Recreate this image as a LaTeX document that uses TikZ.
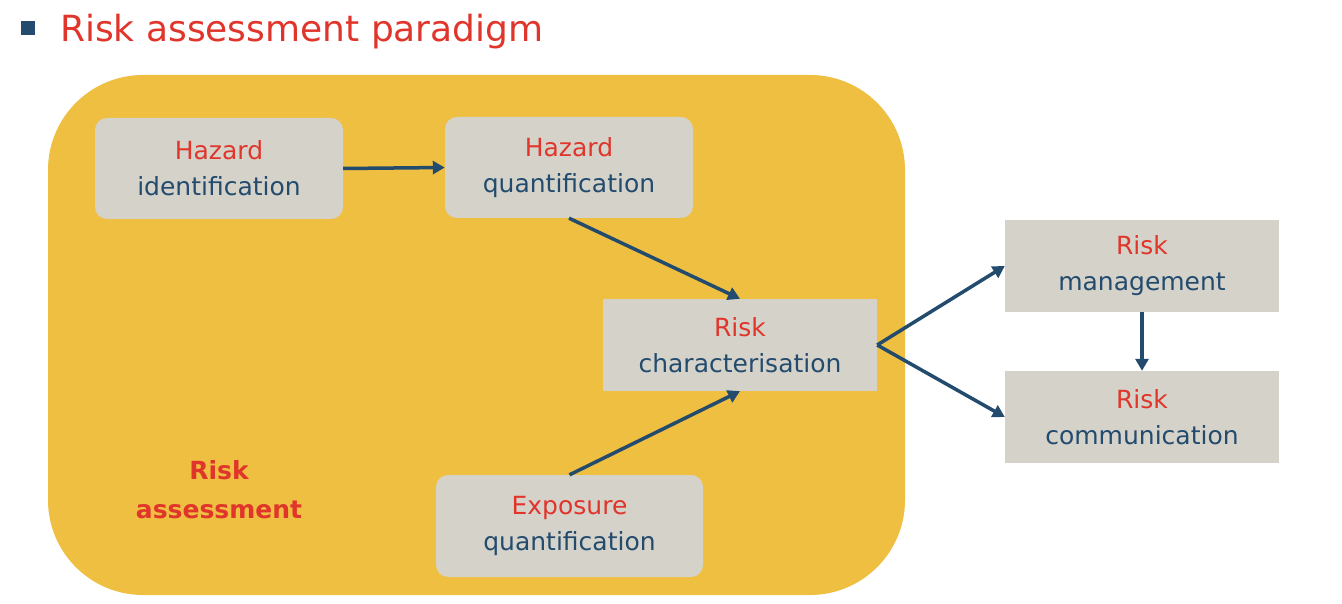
\documentclass[tikz,border=0pt]{standalone}
\usepackage{fontspec}
\setmainfont{DejaVu Sans}
\usetikzlibrary{arrows.meta}
\definecolor{rred}{HTML}{E0352B}
\definecolor{rblue}{HTML}{234B6E}
\definecolor{rgold}{HTML}{EFBF41}
\definecolor{rgray}{HTML}{D5D2CA}
\begin{document}
\begin{tikzpicture}[x=1pt,y=-1pt,
  box/.style={fill=rgray,draw=none,inner sep=0pt,align=center,font=\fontsize{25}{36}\selectfont},
  arr/.style={draw=rblue,line width=3.5pt,-{Triangle[length=12pt,width=13pt]}}]
\useasboundingbox (0,0) rectangle (1342,604);
\fill[rblue] (21,21) rectangle (35,35);
\node[anchor=west,text=rred,font=\fontsize{36}{40}\selectfont,inner sep=0pt] (title) at (60,32) {Risk assessment paradigm};
\fill[rgold,rounded corners=95pt] (48,75) rectangle (905,595);
\node[box,rounded corners=12pt,minimum width=248pt,minimum height=101pt] (hi) at (219,168.5) {\textcolor{rred}{Hazard}\\\textcolor{rblue}{identification}};
\node[box,rounded corners=12pt,minimum width=248pt,minimum height=101pt] (hq) at (569,167.5) {\textcolor{rred}{Hazard}\\\textcolor{rblue}{quantification}};
\node[box,minimum width=274pt,minimum height=92pt] (rc) at (740,345) {\textcolor{rred}{Risk}\\\textcolor{rblue}{characterisation}};
\node[box,rounded corners=12pt,minimum width=267pt,minimum height=102pt] (eq) at (569.5,526) {\textcolor{rred}{Exposure}\\\textcolor{rblue}{quantification}};
\node[box,minimum width=274pt,minimum height=92pt] (rm) at (1142,266) {\textcolor{rred}{Risk}\\\textcolor{rblue}{management}};
\node[box,minimum width=274pt,minimum height=92pt] (rcm) at (1142,417) {\textcolor{rred}{Risk}\\\textcolor{rblue}{communication}};
\node[align=center,text=rred,font=\fontsize{25}{39}\selectfont\bfseries] (ra) at (219,490) {Risk\\assessment};
\draw[arr] (hi.east) -- (hq.west);
\draw[arr] (hq.south) -- (rc.north);
\draw[arr] (eq.north) -- (rc.south);
\draw[arr] (rc.east) -- (rm.west);
\draw[arr] (rc.east) -- (rcm.west);
\draw[arr] (rm.south) -- (rcm.north);
\end{tikzpicture}
\end{document}
